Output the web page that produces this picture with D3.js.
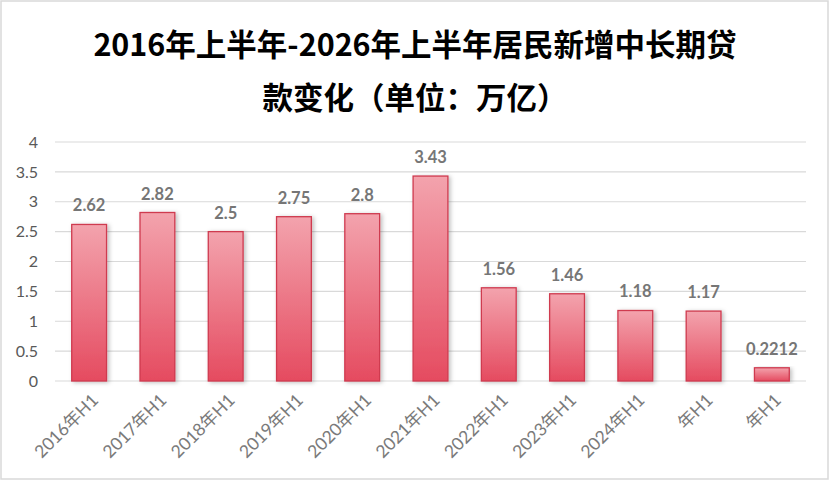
<!DOCTYPE html>
<html>
<head>
<meta charset="utf-8">
<script src="https://cdn.jsdelivr.net/npm/d3@7"></script>
<style>
  body { margin: 0; background: #fff; }
  svg { display: block; }
</style>
</head>
<body>
<div id="chart"></div>
<script>
const titleLines = ["2016年上半年-2026年上半年居民新增中长期贷", "款变化（单位：万亿）"];
const categories = ["2016年H1", "2017年H1", "2018年H1", "2019年H1", "2020年H1", "2021年H1",
                    "2022年H1", "2023年H1", "2024年H1", "年H1", "年H1"];
const values = [2.62, 2.82, 2.5, 2.75, 2.8, 3.43, 1.56, 1.46, 1.18, 1.17, 0.2212];
const yTicks = [0, 0.5, 1, 1.5, 2, 2.5, 3, 3.5, 4];

const W = 830, H = 481;
const margin = { top: 142, right: 24, bottom: 100, left: 55 };
const width = W - margin.left - margin.right,
      height = H - margin.top - margin.bottom;

const latin = "Lato, 'Noto Sans CJK SC', sans-serif";

const svg = d3.select("#chart").append("svg")
    .attr("width", W)
    .attr("height", H);

// bar gradient + soft shadow
const defs = svg.append("defs");
const grad = defs.append("linearGradient")
    .attr("id", "barGrad")
    .attr("x1", 0).attr("y1", 0).attr("x2", 0).attr("y2", 1);
grad.append("stop").attr("offset", "0%").attr("stop-color", "#f3a3ad");
grad.append("stop").attr("offset", "100%").attr("stop-color", "#e54b60");

const shadow = defs.append("filter").attr("id", "barShadow")
    .attr("x", "-30%").attr("y", "-10%").attr("width", "160%").attr("height", "130%");
shadow.append("feDropShadow")
    .attr("dx", 2).attr("dy", 1).attr("stdDeviation", 2)
    .attr("flood-color", "#000").attr("flood-opacity", 0.25);

// outer frame
svg.append("rect")
    .attr("x", 1).attr("y", 1)
    .attr("width", W - 3).attr("height", H - 3)
    .attr("fill", "none")
    .attr("stroke", "#d9d9d9")
    .attr("stroke-width", 1.5);

svg.selectAll(".title")
    .data(titleLines)
    .enter()
    .append("text")
    .attr("class", "title")
    .attr("x", W / 2)
    .attr("y", (d, i) => 56 + i * 53)
    .attr("text-anchor", "middle")
    .attr("fill", "#000")
    .style("font-family", "'Noto Sans CJK SC', sans-serif")
    .style("font-size", "30.5px")
    .style("font-weight", "700")
    .text(d => d);

const g = svg.append("g")
    .attr("transform", `translate(${margin.left},${margin.top})`);

const x = d3.scaleBand()
    .domain(d3.range(categories.length))
    .range([0, width])
    .paddingInner(0.49)
    .paddingOuter(0.245);

const y = d3.scaleLinear()
    .domain([0, 4])
    .range([height, 0]);

// gridlines
g.selectAll(".grid")
    .data(yTicks)
    .enter()
    .append("line")
    .attr("class", "grid")
    .attr("x1", 0).attr("x2", width)
    .attr("y1", d => y(d)).attr("y2", d => y(d))
    .attr("stroke", "#d9d9d9")
    .attr("stroke-width", 1.2);

// y axis labels
const yAxis = g.append("g")
    .call(d3.axisLeft(y).tickValues(yTicks).tickSize(0).tickPadding(17).tickFormat(d3.format("")));
yAxis.select(".domain").remove();
yAxis.selectAll("text")
    .attr("fill", "#595959")
    .style("font-family", latin)
    .style("font-size", "16px");

// bars
g.selectAll(".bar")
    .data(values)
    .enter()
    .append("rect")
    .attr("class", "bar")
    .attr("x", (d, i) => x(i))
    .attr("y", d => y(d))
    .attr("width", x.bandwidth())
    .attr("height", d => height - y(d))
    .attr("fill", "url(#barGrad)")
    .attr("stroke", "#cf3a4f")
    .attr("stroke-width", 1.3)
    .attr("filter", "url(#barShadow)");

// value labels
g.selectAll(".val")
    .data(values)
    .enter()
    .append("text")
    .attr("class", "val")
    .attr("x", (d, i) => x(i) + x.bandwidth() / 2)
    .attr("y", d => y(d) - 13)
    .attr("text-anchor", "middle")
    .attr("fill", "#767676")
    .style("font-family", latin)
    .style("font-size", "16.5px")
    .style("font-weight", "700")
    .text(d => String(d));

// x labels, rotated
g.selectAll(".xlab")
    .data(categories)
    .enter()
    .append("text")
    .attr("class", "xlab")
    .attr("transform", (d, i) => `translate(${x(i) + x.bandwidth() / 2 + 6},${height + 16}) rotate(-45)`)
    .attr("text-anchor", "end")
    .attr("dy", "0.35em")
    .attr("fill", "#7a7a7a")
    .style("font-family", latin)
    .style("font-size", "17.5px")
    .text(d => d);
</script>
</body>
</html>
